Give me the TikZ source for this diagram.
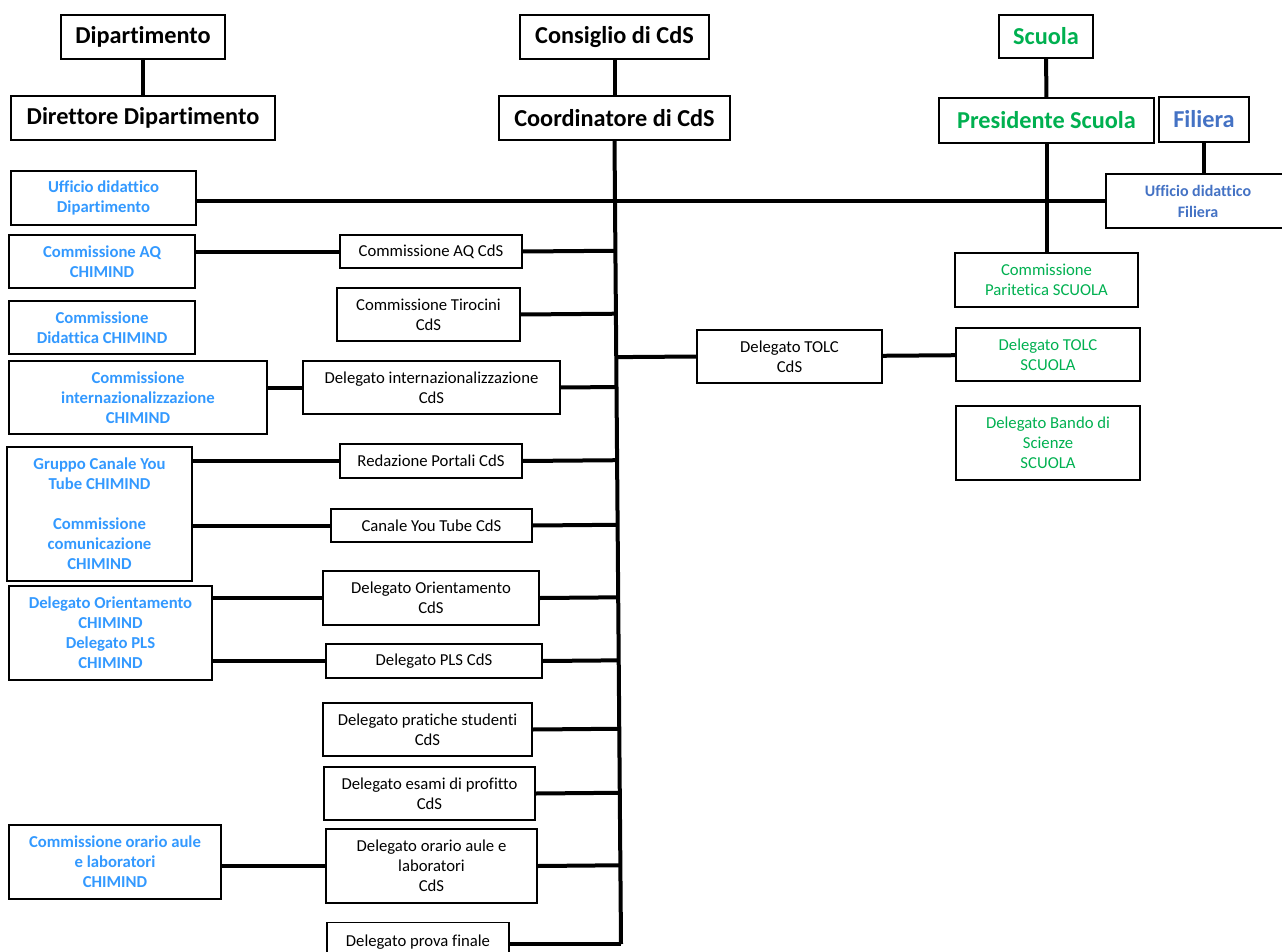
\documentclass[tikz,border=0pt]{standalone}
\usepackage{fontspec}
\setmainfont{Carlito}[Ligatures=NoCommon]
\usepackage{xcolor}
\usetikzlibrary{positioning,calc}
\definecolor{chimblue}{HTML}{3399FF}
\definecolor{scugreen}{HTML}{00B050}
\definecolor{filblue}{HTML}{4472C4}

\begin{document}
\begin{tikzpicture}[x=1pt,y=-1pt,line width=4pt]
			\tikzstyle{box}=[draw=black,line width=1.4pt,align=center,inner sep=2pt,font=\fontsize{16.7}{20}\selectfont]
			\tikzstyle{head}=[box,font=\bfseries\fontsize{24.3}{29}\selectfont]
			\tikzstyle{chim}=[box,text=chimblue,font=\bfseries\fontsize{16.7}{20}\selectfont]
			\tikzstyle{scu}=[box,text=scugreen]
			\tikzset{wh/.style 2 args={minimum width=#1pt,minimum height=#2pt}}
			\useasboundingbox (0,0) rectangle (1282,952);
			% top row
			\node[head,wh={164}{44}]    (Dip)   at (143,37)     {Dipartimento};
			\node[head,wh={264}{44}]    (Dir)   at (143,118)    {Direttore Dipartimento};
			\node[head,wh={189}{44}]    (Cons)  at (614.5,37)   {Consiglio di CdS};
			\node[head,wh={231}{44}]    (Coord) at (614.5,118)  {Coordinatore di CdS};
			\node[head,wh={94}{43},text=scugreen]   (Scu)  at (1046,36.5)  {Scuola};
			\node[head,wh={215}{45},text=scugreen]  (Pres) at (1046.5,120.5) {Presidente Scuola};
			\node[head,wh={90}{45},text=filblue]    (Fil)  at (1204,119.5) {Filiera};
			\node[box,wh={184}{54},text=filblue,font=\bfseries\fontsize{16}{21}\selectfont] (UFil) at (1198,201) {Ufficio didattico\\Filiera};
			% CHIMIND column
			\node[chim,wh={185}{54}]    (UDd)   at (103.5,198)  {Ufficio didattico\\Dipartimento};
			\node[chim,wh={186}{53}]    (AQc)   at (102,261.5)  {Commissione AQ\\CHIMIND};
			\node[chim,wh={186}{53}]    (Didc)  at (102,327.5)  {Commissione\\Didattica CHIMIND};
			\node[chim,wh={258}{73}]    (Intc)  at (138,397.5)  {Commissione\\internazionalizzazione\\CHIMIND};
			\node[chim,wh={185}{134}]   (Grp)   at (99.5,514)   {Gruppo Canale You\\Tube CHIMIND\\[20pt]Commissione\\comunicazione\\CHIMIND};
			\node[chim,wh={203}{94}]    (Oric)  at (110.5,633)  {Delegato Orientamento\\CHIMIND\\Delegato PLS\\CHIMIND};
			\node[chim,wh={212}{74}]    (Orac)  at (115,862)    {Commissione orario aule\\e laboratori\\CHIMIND};
			% CdS column
			\node[box,wh={182}{33}]     (AQd)   at (431,251.5)  {Commissione AQ CdS};
			\node[box,wh={183}{53}]     (Tir)   at (428.5,314.5) {Commissione Tirocini\\CdS};
			\node[box,wh={257}{53}]     (Intd)  at (431.5,387.5) {Delegato internazionalizzazione\\CdS};
			\node[box,wh={182}{34}]     (Red)   at (431,461)    {Redazione Portali CdS};
			\node[box,wh={201}{33}]     (YT)    at (431.5,525.5) {Canale You Tube CdS};
			\node[box,wh={216}{54}]     (Orid)  at (431,598)    {Delegato Orientamento\\CdS};
			\node[box,wh={216}{34}]     (PLS)   at (434,661)    {Delegato PLS CdS};
			\node[box,wh={209}{53}]     (Prat)  at (427.5,729.5) {Delegato pratiche studenti\\CdS};
			\node[box,wh={211}{53}]     (Esa)   at (429.5,793.5) {Delegato esami di profitto\\CdS};
			\node[box,wh={211}{74}]     (Orad)  at (431.5,866)  {Delegato orario aule e\\laboratori\\CdS};
			\node[box,minimum width=182pt,anchor=north,inner ysep=4pt,text height=20pt,text depth=40pt] (Prova) at (418,922) {Delegato prova finale};
			% Scuola column
			\node[box,wh={185}{53}]     (TOLCd) at (789.5,356.5) {Delegato TOLC\\CdS};
			\node[scu,wh={183}{54}]     (Parit) at (1046.5,280) {Commissione\\Paritetica SCUOLA};
			\node[scu,wh={184}{53}]     (TOLCs) at (1048,354.5) {Delegato TOLC\\SCUOLA};
			\node[scu,wh={184}{74}]     (Bando) at (1048,443)   {Delegato Bando di\\Scienze\\SCUOLA};
			% spine of the CdS
			\coordinate (sTop) at (Coord.south);
			\coordinate (sBot) at (621,944);
			\draw (sTop) -- (sBot);
			\draw (sBot -| Prova.east) -- (sBot);
			\foreach \n in {AQd,Tir,Intd,Red,YT,Orid,PLS,Prat,Esa,Orad}
				\draw (\n.east) -- ($(sTop)!(\n.east)!(sBot)$);
			\draw ($(sTop)!(TOLCd.west)!(sBot)$) -- (TOLCd.west);
			\path
			(Dip) edge (Dir)
			(Cons) edge (Coord)
			(Scu) edge (Pres)
			(Pres) edge (Parit)
			(TOLCd) edge (TOLCs);
			\draw (Fil.south) -- (Fil.south |- UFil.north);
			\draw (UDd.east |- UFil.west) -- (UFil.west);
			% links to CHIMIND
			\draw (AQc.east |- AQd.west) -- (AQd.west);
			\draw (Intc.east |- Intd.west) -- (Intd.west);
			\draw (Grp.east |- Red.west) -- (Red.west);
			\draw (Grp.east |- YT.west) -- (YT.west);
			\draw (Oric.east |- Orid.west) -- (Orid.west);
			\draw (Oric.east |- PLS.west) -- (PLS.west);
			\draw (Orac.east |- Orad.west) -- (Orad.west);
		\end{tikzpicture}
\end{document}
